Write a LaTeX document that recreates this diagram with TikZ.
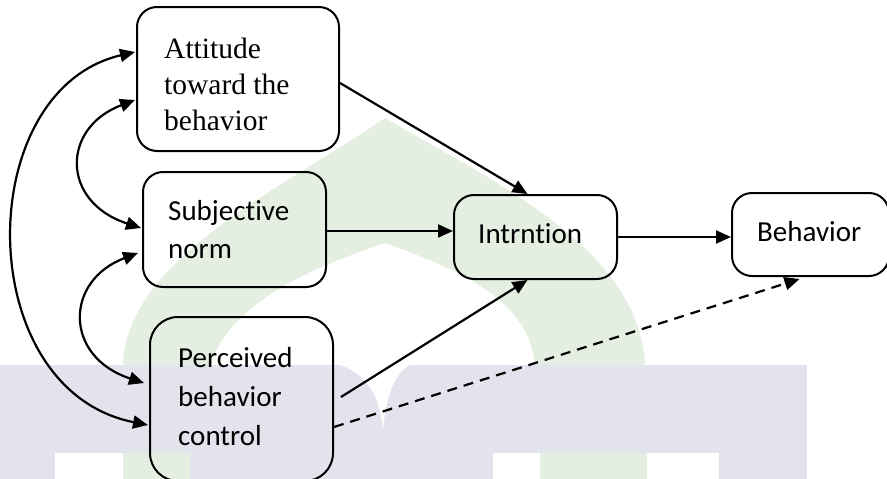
\documentclass[tikz,border=0pt]{standalone}
\usepackage{fontspec}
\setmainfont{Liberation Serif}
\newfontfamily\carl[Ligatures=CommonOff]{Carlito}
\usetikzlibrary{arrows.meta}
\definecolor{wmblue}{HTML}{E3E3EE}
\definecolor{wmgreen}{HTML}{E4EFE1}
\begin{document}
\begin{tikzpicture}[x=1pt,y=-1pt,
  box/.style={draw, line width=2pt, rounded corners=20pt, inner sep=0pt},
  lbl/.style={anchor=base west, align=left, inner sep=0pt},
  serifsty/.style={font=\fontsize{29.5}{36}\selectfont},
  carlsty/.style={font=\carl\fontsize{29}{37.5}\selectfont},
  tip/.tip={Triangle[length=15pt,width=13pt]},
  conn/.style={line width=2.2pt, -tip},
  bconn/.style={line width=2.2pt, tip-tip},
]
\useasboundingbox (0,0) rectangle (887,479);
% watermark
\fill[wmgreen] (123,366) .. controls (125,260) and (280,190) .. (385,118)
  .. controls (500,185) and (640,250) .. (645,366) -- (535,366)
  .. controls (530,300) and (460,270) .. (385,243)
  .. controls (320,265) and (230,300) .. (210,366) -- cycle;
\fill[wmgreen] (123,453) rectangle (190,479);
\fill[wmgreen] (540,453) rectangle (647,479);
\fill[wmblue] (0,365) rectangle (807,453);
\fill[wmblue] (0,453) rectangle (55,479);
\fill[wmblue] (190,453) rectangle (493,479);
\fill[wmblue] (719,453) rectangle (807,479);
\fill[white] (340,365) .. controls (370,375) and (380,400) .. (383,430)
  .. controls (386,400) and (392,375) .. (410,365) -- cycle;
% boxes
\node[box, minimum width=202pt, minimum height=144pt] (att) at (238,79) {};
\node[box, minimum width=183pt, minimum height=115pt] (subj) at (234.5,229.5) {};
\node[box, rounded corners=28pt, minimum width=183pt, minimum height=164pt] (perc) at (241.5,399) {};
\node[box, minimum width=163pt, minimum height=84pt] (int) at (535.5,237) {};
\node[box, minimum width=157pt, minimum height=83pt] (beh) at (810.5,234.5) {};
% labels (anchor = baseline of the last line)
\node[lbl, serifsty] (attT) at (164,130) {Attitude\\toward the\\behavior};
\node[lbl, carlsty] (subjT) at (168,258) {Subjective\\norm};
\node[lbl, carlsty, font=\carl\fontsize{29}{39}\selectfont] (percT) at (178,445) {Perceived\\behavior\\control};
\node[lbl, carlsty] (intT) at (478,243) {Intrntion};
\node[lbl, carlsty] (behT) at (757,241) {Behavior};
% connectors
\draw[conn] ([yshift=-4pt]att.east) -- ([xshift=-8pt]int.north);
\draw[conn] ([yshift=-1.5pt]subj.east) -- ([yshift=-1.5pt]subj.east -| int.west);
\draw[conn] ([xshift=7pt,yshift=2pt]perc.east) -- ([xshift=-8pt]int.south);
\draw[conn] (int.east) -- (int.east -| beh.west);
\draw[conn, dash pattern=on 10pt off 7pt] ([yshift=-28pt]perc.east) -- ([xshift=-11pt,yshift=-2pt]beh.south);
% left correlations
\draw[bconn] ([xshift=-1pt,yshift=27pt]att.west) .. controls +(-164,38) and +(-177,-35) .. ([xshift=-1pt,yshift=-26pt]perc.west);
\draw[bconn] ([xshift=-1pt,yshift=-21pt]att.west) .. controls +(-74,28) and +(-80,-26) .. ([xshift=-1pt,yshift=1.5pt]subj.west);
\draw[bconn] ([xshift=-4pt,yshift=-23.5pt]subj.west) .. controls +(-74,28) and +(-80,-26) .. ([xshift=-5pt,yshift=16pt]perc.west);
\end{tikzpicture}
\end{document}
